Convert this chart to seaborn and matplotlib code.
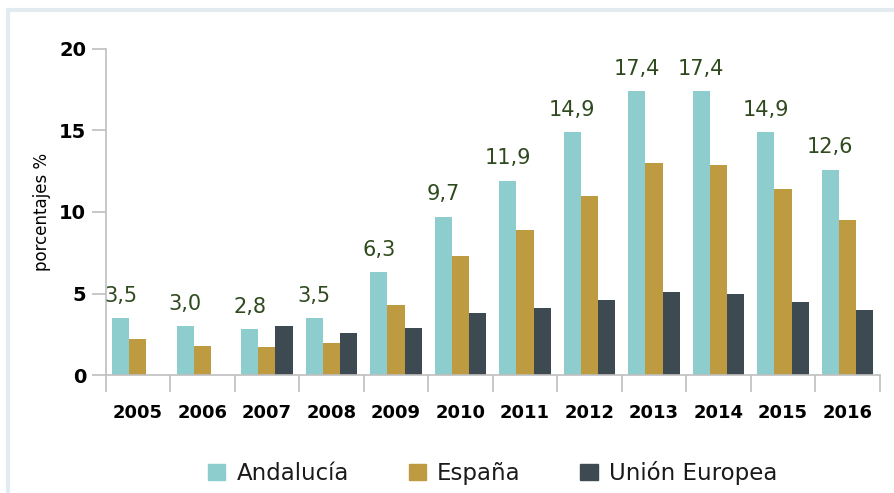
import numpy as np
import pandas as pd
import matplotlib.pyplot as plt
import seaborn as sns
from matplotlib.lines import Line2D

years = ["2005", "2006", "2007", "2008", "2009", "2010",
         "2011", "2012", "2013", "2014", "2015", "2016"]
andalucia = [3.5, 3.0, 2.8, 3.5, 6.3, 9.7, 11.9, 14.9, 17.4, 17.4, 14.9, 12.6]
espana = [2.2, 1.8, 1.7, 2.0, 4.3, 7.3, 8.9, 11.0, 13.0, 12.9, 11.4, 9.5]
ue = [np.nan, np.nan, 3.0, 2.6, 2.9, 3.8, 4.1, 4.6, 5.1, 5.0, 4.5, 4.0]
series = ["Andalucía", "España", "Unión Europea"]
colors = ["#8ECDCD", "#BE9B40", "#3D4A51"]

df = pd.DataFrame({"year": years, "Andalucía": andalucia,
                   "España": espana, "Unión Europea": ue})
df_long = df.melt(id_vars="year", var_name="serie", value_name="valor")

sns.set_style("white")
plt.rcParams["font.family"] = ["DejaVu Sans"]

fig = plt.figure(figsize=(8.95, 4.93), dpi=100)
ax = fig.add_axes([0.118, 0.239, 0.865, 0.662])

sns.barplot(data=df_long, x="year", y="valor", hue="serie", hue_order=series,
            palette=colors, width=0.8, saturation=1, linewidth=0, ax=ax)

# labels above Andalucía bars
for i, v in enumerate(andalucia):
    ax.annotate(f"{v:.1f}".replace(".", ","), xy=(i - 0.8 / 3, v),
                xytext=(0, 9), textcoords="offset points",
                ha="center", va="bottom", fontsize=15, color="#2F4A1E")

ax.set_ylim(0, 20)
ax.set_xlim(-0.5, len(years) - 0.5)
ax.set_yticks([0, 5, 10, 15, 20])
ax.set_xlabel("")
ax.set_ylabel("porcentajes %", fontsize=12, labelpad=6, color="black")

for s in ["top", "right"]:
    ax.spines[s].set_visible(False)
for s in ["left", "bottom"]:
    ax.spines[s].set_color("#BFBFBF")
    ax.spines[s].set_linewidth(1.2)

ax.tick_params(axis="y", left=True, length=10, color="#BFBFBF", width=1.2,
               pad=4, labelsize=14, labelcolor="black")
ax.tick_params(axis="x", which="major", bottom=True, length=0, pad=21,
               labelsize=13, labelcolor="black")
for lab in ax.get_xticklabels() + ax.get_yticklabels():
    lab.set_fontweight("bold")

# category separator ticks
ax.set_xticks(np.arange(-0.5, len(years), 1), minor=True)
ax.tick_params(axis="x", which="minor", bottom=True, length=12,
               color="#BFBFBF", width=1.2)

handles = [plt.Rectangle((0, 0), 1, 1, color=c) for c in colors]
leg = ax.legend(handles, series, loc="lower center",
                bbox_to_anchor=(0.50, -0.40), ncol=3, frameon=False,
                fontsize=16.5, handlelength=0.75, handleheight=0.75,
                handletextpad=0.5, columnspacing=2.6)
for t in leg.get_texts():
    t.set_color("#1A1A1A")

# light frame lines on top and left
fig.add_artist(Line2D([0.009, 1.0], [0.979, 0.979], color="#E2EBF0", lw=3))
fig.add_artist(Line2D([0.009, 0.009], [0.0, 0.979], color="#E2EBF0", lw=3))

fig.savefig("out.png", dpi=100)
